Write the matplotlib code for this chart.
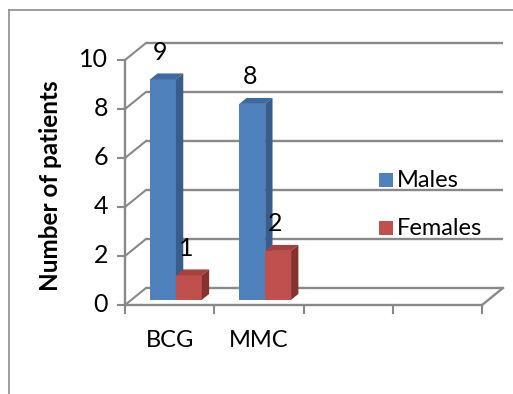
import matplotlib.pyplot as plt
from matplotlib.patches import Polygon, Rectangle
from matplotlib.lines import Line2D

plt.rcParams['font.family'] = ['Lato', 'DejaVu Sans']

# data
categories = ['BCG', 'MMC', '', '']
males = [9, 8]
females = [1, 2]
series_names = ['Males', 'Females']
yticks = [0, 2, 4, 6, 8, 10]

# colours (front, top, side)
blue = ('#4F81BD', '#3E6A9E', '#385D8A')
red = ('#C0504D', '#A5413E', '#86332F')
grid_col = '#898989'

# fake 3d geometry in data units
Dx, Dy = 0.235, 0.694      # depth of the floor
f0, fd = 0.30, 0.35        # bar depth start / thickness (fraction of floor depth)
w = 0.29                   # width of one bar

fig = plt.figure(figsize=(5.13, 3.94), dpi=100)
ax = fig.add_axes([0, 0, 1, 1])
ax.set_xlim(-1.4006, 4.347)
ax.set_ylim(-3.633, 12.449)
ax.axis('off')

n = len(categories)

# back wall gridlines + side wall diagonals
for t in yticks:
    ax.plot([Dx, n + Dx], [t + Dy, t + Dy], color=grid_col, lw=1.7, zorder=1,
            solid_capstyle='butt')
    ax.plot([0, Dx], [t, t + Dy], color=grid_col, lw=1.5, zorder=1)
    ax.plot([-0.08, 0], [t, t], color=grid_col, lw=1.5, zorder=1)
    ax.text(-0.19, t, str(t), ha='right', va='center', fontsize=18)

# floor front edge + right diagonal, value axis
ax.plot([0, n], [0, 0], color=grid_col, lw=1.7, zorder=4)
ax.plot([n, n + Dx], [0, Dy], color=grid_col, lw=1.7, zorder=1)
ax.plot([0, 0], [0, 10], color=grid_col, lw=1.7, zorder=1)
for i in range(n + 1):
    ax.plot([i, i], [0, -0.33], color=grid_col, lw=1.5, zorder=1)

for i, c in enumerate(categories):
    if c:
        ax.text(i + 0.5, -1.43, c, ha='center', va='center', fontsize=17)


def bar3d(x0, v, cols):
    sx, sy = f0 * Dx, f0 * Dy
    bdx, bdy = fd * Dx, fd * Dy
    xl, xr = x0 + sx, x0 + w + sx
    yb, yt = sy, sy + v
    ax.add_patch(Rectangle((xl, yb), w, v, facecolor=cols[0], edgecolor='none', zorder=3))
    ax.add_patch(Polygon([(xl, yt), (xr, yt), (xr + bdx, yt + bdy), (xl + bdx, yt + bdy)],
                         facecolor=cols[1], edgecolor='none', zorder=3))
    ax.add_patch(Polygon([(xr, yb), (xr + bdx, yb + bdy), (xr + bdx, yt + bdy), (xr, yt)],
                         facecolor=cols[2], edgecolor='none', zorder=3))
    ax.text(xl + w / 2 - 0.03, yt + 1.1, str(v), ha='center', va='center',
            fontsize=18, zorder=5)


for i in range(len(males)):
    bar3d(i + 0.5 - w, males[i], blue)
    bar3d(i + 0.5, females[i], red)

# legend
for name, cols, ly in zip(series_names, [blue, red], [5.10, 3.14]):
    ax.add_patch(Rectangle((2.846, ly - 0.285), 0.157, 0.57, facecolor=cols[0],
                           edgecolor='none', zorder=5))
    ax.text(3.05, ly, name, ha='left', va='center', fontsize=17, zorder=5)

ax.text(-0.83, 4.86, 'Number of patients', rotation=90, ha='center', va='center',
        fontsize=17.5, fontweight='bold')

# chart area border (left and top only)
fig.add_artist(Line2D([9 / 513, 9 / 513], [0, 1 - 10 / 394], color='#8C8C8C', lw=1.2))
fig.add_artist(Line2D([9 / 513, 1], [1 - 10 / 394, 1 - 10 / 394], color='#8C8C8C', lw=1.2))

fig.savefig('out.png', dpi=100)
